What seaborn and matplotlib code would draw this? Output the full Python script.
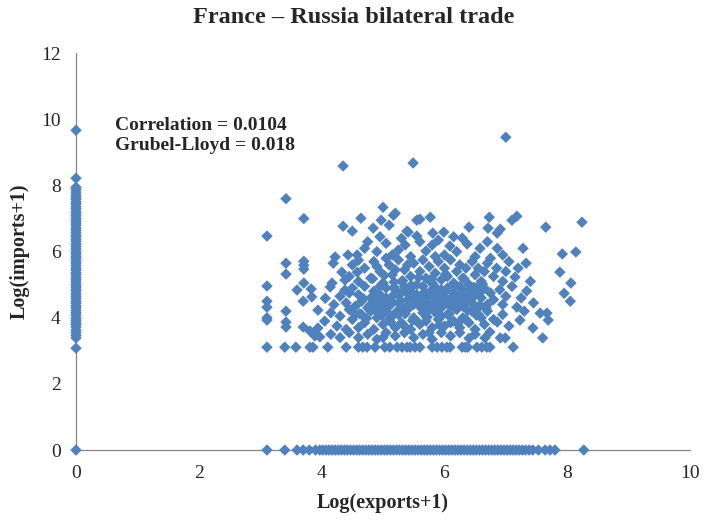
import pandas as pd
import matplotlib
matplotlib.use("Agg")
import matplotlib.pyplot as plt
import seaborn as sns

# products with no exports (x = 0)
zero_exp_y = [9.67, 8.22, 7.95, 7.88, 7.8, 7.72, 7.65, 7.58, 7.5, 7.44, 7.36, 7.3, 7.22, 7.15,
              7.08, 7.0, 6.93, 6.86, 6.8, 6.72, 6.65, 6.58, 6.5, 6.44, 6.36, 6.3, 6.22, 6.15,
              6.08, 6.0, 5.93, 5.86, 5.8, 5.72, 5.65, 5.58, 5.5, 5.44, 5.36, 5.3, 5.22, 5.15,
              5.08, 5.0, 4.93, 4.86, 4.8, 4.72, 4.65, 4.58, 4.5, 4.44, 4.36, 4.3, 4.22, 4.15,
              4.08, 4.0, 3.93, 3.86, 3.8, 3.72, 3.63, 3.55, 3.47, 3.39, 3.08, 0.0]

# products with no imports (y = 0)
zero_imp_x = [3.11, 3.4, 3.6, 3.7, 3.8, 3.9, 3.97, 4.02, 4.07, 4.12, 4.17, 4.22, 4.27, 4.32,
              4.37, 4.42, 4.47, 4.52, 4.57, 4.62, 4.67, 4.72, 4.77, 4.82, 4.87, 4.92, 4.97,
              5.02, 5.07, 5.12, 5.17, 5.22, 5.27, 5.32, 5.37, 5.42, 5.47, 5.52, 5.57, 5.62,
              5.67, 5.72, 5.77, 5.82, 5.87, 5.92, 5.97, 6.02, 6.07, 6.12, 6.17, 6.22, 6.27,
              6.32, 6.37, 6.42, 6.47, 6.52, 6.57, 6.62, 6.67, 6.72, 6.77, 6.82, 6.87, 6.92,
              6.97, 7.02, 7.07, 7.12, 7.17, 7.22, 7.27, 7.32, 7.38, 7.44, 7.53, 7.64, 7.72,
              7.8, 8.27]

# two-way traded products
both_x = [
    # top outliers
    4.35, 5.49, 7.0, 3.42, 3.71, 3.11, 4.35, 4.5, 4.64, 5.0, 4.97, 4.84, 5.1, 5.17, 5.2, 5.41,
    5.55, 5.6, 5.77, 5.39, 5.55, 5.81, 5.99, 6.4, 6.73, 6.71, 6.86, 6.91, 7.1, 7.18, 7.65, 8.24,
    # 5.8 - 6.5
    5.36, 6.29, 6.37, 6.58, 6.86, 6.09, 5.9, 5.7, 5.8, 7.28, 7.92, 8.14, 4.22, 4.43, 4.58, 4.6,
    4.9, 5.05, 5.15, 5.25, 5.45, 4.75, 4.95, 5.6, 6.0, 6.2, 6.5, 6.7, 6.95, 5.3, 4.7, 6.15, 5.85,
    # 5.0 - 5.8
    3.42, 3.42, 3.71, 3.71, 3.71, 3.71, 4.19, 4.33, 4.38, 4.58, 4.17, 7.33, 7.88, 8.06, 7.15,
    4.5, 4.7, 4.8, 4.85, 4.95, 5.0, 5.1, 5.15, 5.25, 5.3, 5.35, 5.45, 5.5, 5.55, 5.6, 5.65, 5.7,
    5.75, 5.8, 5.85, 5.9, 5.95, 6.0, 6.05, 6.1, 6.15, 6.2, 6.25, 6.3, 6.35, 6.4, 6.45, 6.5, 6.55,
    6.6, 6.65, 6.7, 6.8, 6.85, 6.95, 7.0, 7.05, 4.6, 4.9, 5.2, 5.4, 5.05, 4.45, 6.75, 7.2, 7.4,
    # 4.3 - 5.0
    3.11, 3.11, 3.11, 3.6, 3.7, 3.83, 3.84, 4.06, 4.14, 4.38, 7.34, 7.95, 8.05, 7.18, 4.2, 4.3,
    4.4, 4.5, 4.55, 4.6, 4.65, 4.7, 4.75, 4.8, 4.85, 4.9, 4.95, 5.0, 5.05, 5.1, 5.15, 5.2, 5.25,
    5.3, 5.35, 5.4, 5.45, 5.5, 5.55, 5.6, 5.65, 5.7, 5.75, 5.8, 5.85, 5.9, 5.95, 6.0, 6.05, 6.1,
    6.15, 6.2, 6.25, 6.3, 6.35, 6.4, 6.45, 6.5, 6.55, 6.6, 6.65, 6.7, 6.75, 6.8, 6.9, 6.95, 7.0,
    7.1, 7.25, 7.45, 4.45, 4.85, 5.05, 5.25, 5.5, 5.65, 5.85, 6.05, 6.25, 6.45, 6.6, 5.15, 5.4,
    5.75, 5.95, 6.15, 6.35, 4.95, 5.35, 6.55,
    # 3.6 - 4.3
    3.11, 3.11, 3.42, 3.42, 3.42, 3.7, 3.81, 3.94, 3.94, 7.23, 6.86, 7.56, 7.69, 7.67, 7.44,
    6.74, 4.05, 4.15, 4.25, 4.3, 4.4, 4.45, 4.5, 4.6, 4.65, 4.7, 4.8, 4.85, 4.9, 5.0, 5.05, 5.1,
    5.2, 5.25, 5.3, 5.4, 5.45, 5.5, 5.6, 5.65, 5.7, 5.8, 5.85, 5.9, 6.0, 6.05, 6.1, 6.2, 6.25,
    6.3, 6.4, 6.45, 6.5, 6.6, 6.65, 6.7, 6.8, 6.95, 7.05, 7.3, 4.95, 5.35, 5.75, 6.15, 6.55,
    4.55, 5.15, 5.55, 5.95, 6.35,
    # 3.3 - 3.6
    3.89, 3.97, 4.15, 4.3, 4.45, 4.6, 4.75, 4.9, 5.05, 5.2, 5.35, 5.5, 5.65, 5.8, 5.95, 6.1,
    6.25, 6.4, 6.66, 6.91, 6.99, 7.6, 5.0, 5.75, 6.5,
    # floor ~3.1
    3.11, 3.4, 3.58, 3.81, 3.86, 4.1, 4.4, 4.6, 4.67, 4.74, 4.87, 5.03, 5.11, 5.23, 5.31, 5.39,
    5.44, 5.52, 5.6, 5.8, 5.88, 5.96, 6.04, 6.09, 6.29, 6.34, 6.38, 6.53, 6.61, 6.69, 6.74, 7.12,
]
both_y = [
    8.59, 8.68, 9.46, 7.6, 7.0, 6.47, 6.77, 6.62, 7.01, 7.34, 6.95, 6.71, 6.8, 7.1, 7.16, 6.59,
    6.95, 6.98, 7.04, 6.62, 6.47, 6.56, 6.59, 6.74, 7.04, 6.71, 6.56, 6.68, 6.95, 7.07, 6.74, 6.89,
    6.2, 6.41, 6.23, 6.1, 6.1, 6.17, 6.35, 6.02, 6.2, 6.1, 5.93, 5.99, 5.84, 5.9, 5.9, 5.74,
    6.0, 6.25, 5.9, 6.05, 5.85, 6.3, 6.45, 6.3, 5.9, 6.0, 5.85, 6.3, 5.9, 6.4, 6.1, 6.45, 5.85,
    5.65, 5.32, 5.71, 5.59, 5.47, 5.05, 5.65, 5.38, 5.14, 5.38, 5.05, 5.65, 5.38, 5.05, 5.23,
    5.6, 5.5, 5.2, 5.7, 5.4, 5.05, 5.6, 5.3, 5.75, 5.1, 5.45, 5.25, 5.65, 5.0, 5.4, 5.75, 5.2,
    5.55, 5.05, 5.35, 5.7, 5.15, 5.5, 5.25, 5.75, 5.05, 5.4, 5.6, 5.2, 5.5, 5.0, 5.7, 5.3, 5.5,
    5.1, 5.4, 5.65, 5.25, 5.5, 5.1, 5.4, 5.7, 5.1, 5.55, 5.45, 5.6, 5.8, 5.25, 5.8, 5.5, 5.1,
    4.96, 4.5, 4.32, 4.84, 4.5, 4.87, 4.63, 4.59, 4.93, 4.84, 4.81, 4.74, 4.5, 4.32, 4.4, 4.65,
    4.45, 4.9, 4.35, 4.7, 4.5, 4.95, 4.3, 4.6, 4.8, 4.4, 4.7, 4.5, 4.9, 4.35, 4.65, 4.85, 4.45,
    4.75, 4.3, 4.55, 4.9, 4.4, 4.7, 4.5, 4.95, 4.35, 4.65, 4.85, 4.45, 4.7, 4.3, 4.6, 4.9, 4.4,
    4.75, 4.55, 4.95, 4.35, 4.65, 4.85, 4.45, 4.7, 4.3, 4.6, 4.9, 4.4, 4.75, 4.55, 4.85, 4.4, 4.65,
    4.95, 4.6, 4.45, 4.75, 4.55, 4.6, 4.7, 4.6, 4.55, 4.6, 4.5, 4.5, 4.6, 4.8, 4.45, 4.75,
    4.4, 4.85, 4.35, 4.45, 4.95, 4.95, 4.95,
    4.0, 3.93, 4.2, 3.87, 3.72, 3.72, 3.6, 3.69, 4.23, 3.93, 3.87, 4.14, 3.93, 4.14, 3.69,
    3.57, 3.9, 4.15, 3.75, 4.05, 3.65, 4.25, 3.95, 3.7, 4.1, 3.85, 4.2, 3.65, 4.0, 3.8, 4.2, 3.95,
    3.7, 4.1, 3.85, 4.25, 3.65, 4.0, 3.8, 4.15, 3.9, 3.7, 4.2, 3.95, 3.75, 4.1, 3.85, 4.25, 3.7,
    4.0, 3.85, 4.2, 3.65, 4.0, 3.8, 4.2, 3.95, 4.1, 3.75, 4.2, 4.15, 3.75, 4.25, 3.9, 4.1,
    4.1, 4.05, 3.9, 4.05, 3.95,
    3.45, 3.42, 3.5, 3.4, 3.55, 3.4, 3.5, 3.35, 3.55, 3.45, 3.55, 3.4, 3.5, 3.35, 3.55, 3.45,
    3.55, 3.38, 3.39, 3.39, 3.39, 3.39, 3.4, 3.55, 3.5,
    3.11, 3.11, 3.11, 3.11, 3.11, 3.11, 3.11, 3.11, 3.11, 3.11, 3.11, 3.11, 3.11, 3.11, 3.11, 3.11,
    3.11, 3.11, 3.11, 3.11, 3.11, 3.11, 3.11, 3.11, 3.11, 3.11, 3.11, 3.11, 3.11, 3.11, 3.11, 3.11,
]

# extra points in the dense core of the cloud
core_x = [4.62, 4.68, 4.73, 4.79, 4.83, 4.88, 4.93, 4.98, 5.02, 5.08, 5.12, 5.18, 5.22, 5.28,
          5.32, 5.38, 5.42, 5.48, 5.52, 5.58, 5.62, 5.68, 5.72, 5.78, 5.82, 5.88, 5.92, 5.98,
          6.02, 6.08, 6.12, 6.18, 6.22, 6.28, 6.32, 6.38, 6.42, 6.48, 6.52, 6.58, 6.62, 6.68,
          5.03, 5.27, 5.46, 5.63, 5.84, 6.06, 6.27, 5.57, 5.71, 5.93, 6.14, 5.36, 5.18, 4.97,
          6.43, 5.66, 5.88, 6.01, 5.49, 5.79]
core_y = [4.12, 4.58, 3.98, 4.38, 5.18, 4.22, 4.62, 4.08, 5.28, 4.48, 3.88, 4.92, 4.18, 4.52,
          5.12, 4.28, 4.82, 3.92, 4.68, 5.22, 4.32, 4.78, 4.02, 5.08, 4.42, 4.88, 3.78, 4.58,
          5.32, 4.12, 4.62, 4.98, 3.82, 4.72, 5.18, 4.22, 4.52, 4.92, 4.08, 4.38, 5.02, 4.28,
          4.25, 4.15, 4.98, 4.28, 4.18, 4.42, 4.88, 4.52, 4.02, 4.48, 4.62, 4.12, 5.08, 4.38,
          4.82, 4.68, 4.28, 4.78, 4.58, 5.18]

df = pd.DataFrame({
    "exports": [0.0] * len(zero_exp_y) + zero_imp_x + both_x + core_x,
    "imports": zero_exp_y + [0.0] * len(zero_imp_x) + both_y + core_y,
})

sns.set_style("white")
plt.rcParams["font.family"] = ["Liberation Serif", "DejaVu Serif"]

fig = plt.figure(figsize=(7.07, 5.27), dpi=100)
ax = fig.add_axes([0.1075, 0.146, 0.8685, 0.753])
sns.scatterplot(data=df, x="exports", y="imports", marker="D", s=34, color="#4F81BD",
                edgecolor="none", ax=ax, clip_on=False, zorder=3)

ax.set_xlim(0, 10)
ax.set_ylim(0, 12)
ax.set_xticks([0, 2, 4, 6, 8, 10])
ax.set_yticks([0, 2, 4, 6, 8, 10, 12])
sns.despine(ax=ax)
for s in ["left", "bottom"]:
    ax.spines[s].set_color("#868686")
    ax.spines[s].set_linewidth(0.9)
ax.tick_params(axis="both", direction="out", length=5, width=0.9, color="#868686",
               labelsize=14, pad=6)

ax.set_xlabel("Log(exports+1)", fontsize=14.5, fontweight="bold", labelpad=8)
ax.set_ylabel("Log(imports+1)", fontsize=14.5, fontweight="bold", labelpad=8)
fig.text(0.5, 0.966, "France \u2013 Russia bilateral trade", fontsize=17.5,
         fontweight="bold", ha="center", va="center")

ax.text(0.63, 9.82, "Correlation = 0.0104", fontsize=14, fontweight="bold", va="center")
ax.text(0.63, 9.2, "Grubel-Lloyd = 0.018", fontsize=14, fontweight="bold", va="center")

fig.savefig("out.png", dpi=100)
